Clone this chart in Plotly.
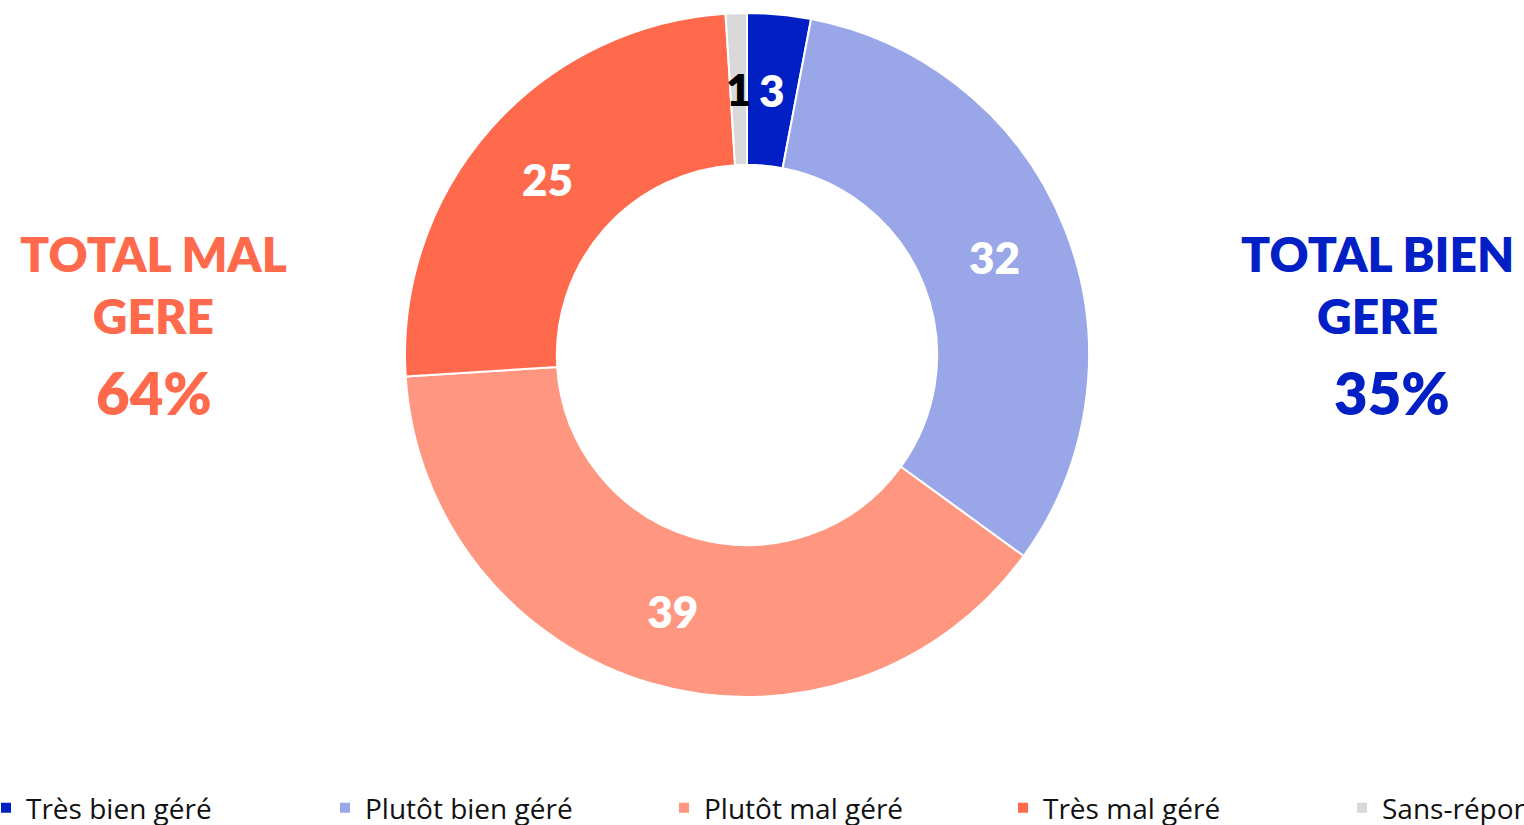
import math
import plotly.graph_objects as go

# Data
labels = ["Très bien géré", "Plutôt bien géré", "Plutôt mal géré", "Très mal géré", "Sans-réponse"]
values = [3, 32, 39, 25, 1]
colors = ["#0020C6", "#99A6E8", "#FF9780", "#FF6A4D", "#D9D9D9"]
label_colors = ["white", "white", "white", "white", "black"]

total_mal_text = "TOTAL MAL<br>GERE"
total_mal_pct = "64%"
total_bien_text = "TOTAL BIEN<br>GERE"
total_bien_pct = "35%"

# Layout geometry (pixels)
W = 1720          # wider than the window: the right end of the legend is cut, like the reference
H = 825
B = 40            # bottom margin holding the legend
HP = H - B        # plot-area height
cx, cy, R = 747, 355, 342
HOLE = 0.556
SMALL = 5         # slices below this value get their label centred in the ring


def px_x(x):
    return x / W


def px_y(y):
    return (HP - y) / HP


# Labels of the thin slices are drawn at the middle of their arc
texttemplates = ["" if v < SMALL else "%{value}" for v in values]

fig = go.Figure(
    go.Pie(
        labels=labels,
        values=values,
        hole=HOLE,
        sort=False,
        direction="clockwise",
        rotation=0,
        marker=dict(colors=colors, line=dict(color="white", width=2)),
        texttemplate=texttemplates,
        textposition="inside",
        insidetextorientation="horizontal",
        textfont=dict(family="Lato", size=44, color=label_colors, weight=800),
        domain=dict(x=[px_x(cx - R), px_x(cx + R)], y=[px_y(cy + R), px_y(cy - R)]),
        showlegend=True,
        hoverinfo="label+value",
    )
)

total = sum(values)
cum = 0
r_mid = R * (1 + HOLE) / 2
for v, col in zip(values, label_colors):
    if v < SMALL:
        ang = 2 * math.pi * (cum + v / 2) / total
        fig.add_annotation(
            x=px_x(cx + r_mid * math.sin(ang)), y=px_y(cy - r_mid * math.cos(ang)),
            xref="paper", yref="paper", text=str(v), showarrow=False,
            xanchor="center", yanchor="middle",
            font=dict(family="Lato", size=44, weight=800, color=col),
        )
    cum += v

ann_font = dict(family="Lato", size=48, weight=800)
pct_font = dict(family="Lato", size=58, weight=800)
for txt, x, y, font, col in [
    (total_mal_text, 153, 284, ann_font, "#FF6A4D"),
    (total_mal_pct, 154, 392, pct_font, "#FF6A4D"),
    (total_bien_text, 1377, 284, ann_font, "#0020C6"),
    (total_bien_pct, 1392, 392, pct_font, "#0020C6"),
]:
    fig.add_annotation(
        x=px_x(x), y=px_y(y), xref="paper", yref="paper", text=txt, showarrow=False,
        xanchor="center", yanchor="middle", align="center", font=dict(**font, color=col),
    )

fig.update_layout(
    width=W,
    height=H,
    margin=dict(l=0, r=0, t=0, b=B, autoexpand=False),
    paper_bgcolor="white",
    plot_bgcolor="white",
    uniformtext=dict(mode="show", minsize=44),
    legend=dict(
        orientation="h",
        x=-14 / W,
        xanchor="left",
        y=px_y(808),
        yanchor="middle",
        font=dict(family="Open Sans", size=28, color="#111111"),
        entrywidth=294,
        entrywidthmode="pixels",
        itemwidth=30,
        bgcolor="rgba(0,0,0,0)",
    ),
)

fig.write_html(
    "out.html",
    post_script="document.body.style.margin='0';document.body.style.overflow='hidden';",
)
